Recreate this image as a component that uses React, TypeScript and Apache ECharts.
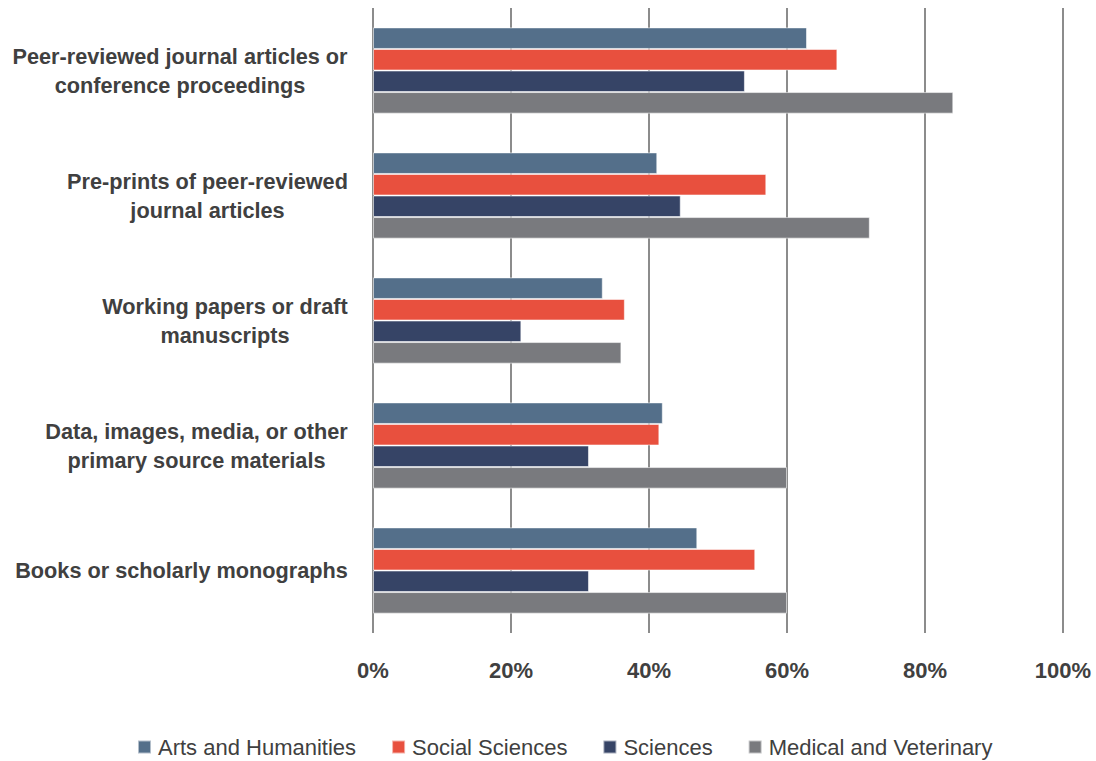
import React, { useEffect, useRef } from "react";
import * as echarts from "echarts";

const categories = [
  "Peer-reviewed journal articles or\nconference proceedings",
  "Pre-prints of peer-reviewed\njournal articles",
  "Working papers or draft\nmanuscripts",
  "Data, images, media, or other\nprimary source materials",
  "Books or scholarly monographs",
];

const seriesNames = ["Arts and Humanities", "Social Sciences", "Sciences", "Medical and Veterinary"];
const seriesColors = ["#546F8A", "#E8503E", "#364466", "#797A7E"];

const artsHumanities = [62.9, 41.2, 33.3, 42.0, 47.0];
const socialSciences = [67.3, 57.0, 36.5, 41.5, 55.4];
const sciences = [53.9, 44.6, 21.5, 31.3, 31.3];
const medicalVeterinary = [84.1, 72.0, 36.0, 60.0, 60.0];

const xTicks = [0, 20, 40, 60, 80, 100];

const FONT = "'Liberation Sans', Arial, sans-serif";
const CAT_FONT_SIZE = 21.7;

// Width of the widest line of each category label, so its lines can be
// centred on one another while the block stays right-aligned to the axis.
function labelWidths(): number[] {
  const canvas = document.createElement("canvas");
  const ctx = canvas.getContext("2d");
  return categories.map((c) => {
    if (!ctx) return 340;
    ctx.font = `bold ${CAT_FONT_SIZE}px ${FONT}`;
    return Math.ceil(Math.max(...c.split("\n").map((l) => ctx.measureText(l).width))) + 2;
  });
}

export default function App() {
  const ref = useRef<HTMLDivElement>(null);

  useEffect(() => {
    if (!ref.current) return;
    const chart = echarts.init(ref.current, undefined, { renderer: "svg" });
    const values = [artsHumanities, socialSciences, sciences, medicalVeterinary];
    const widths = labelWidths();
    const rich: Record<string, object> = {};
    widths.forEach((w, i) => {
      rich[`c${i}`] = {
        width: w,
        align: "center",
        fontFamily: FONT,
        fontWeight: "bold",
        fontSize: CAT_FONT_SIZE,
        lineHeight: 29,
        color: "#404040",
      };
    });

    chart.setOption({
      animation: false,
      backgroundColor: "#ffffff",
      grid: { left: 373, right: 33, top: 8, bottom: 128, containLabel: false },
      legend: {
        top: 731,
        left: 132,
        itemWidth: 13,
        itemHeight: 13,
        itemGap: 35,
        icon: "rect",
        textStyle: { fontFamily: FONT, fontSize: 22, color: "#404040", padding: [0, 0, 0, 2] },
        data: seriesNames,
      },
      xAxis: {
        type: "value",
        min: xTicks[0],
        max: xTicks[xTicks.length - 1],
        interval: 20,
        axisLine: { show: false },
        axisTick: { show: false },
        splitLine: { show: true, lineStyle: { color: "#8C8C8C", width: 2 } },
        axisLabel: {
          formatter: (v: number) => `${v}%`,
          fontFamily: FONT,
          fontWeight: "bold",
          fontSize: 22,
          color: "#404040",
          margin: 26,
        },
      },
      yAxis: {
        type: "category",
        inverse: true,
        data: categories,
        axisLine: { show: false },
        axisTick: { show: false },
        axisLabel: {
          align: "right",
          margin: 24,
          formatter: (value: string, index: number) =>
            value
              .split("\n")
              .map((line) => `{c${index}|${line}}`)
              .join("\n"),
          rich,
        },
      },
      series: seriesNames.map((name, i) => ({
        name,
        type: "bar",
        data: values[i],
        barGap: "0%",
        barCategoryGap: "31%",
        itemStyle: {
          color: seriesColors[i],
          borderColor: "rgba(255,255,255,0.55)",
          borderWidth: 1,
        },
      })),
    });
    return () => chart.dispose();
  }, []);

  return (
    <div
      ref={ref}
      style={{ position: "absolute", left: 0, top: 0, width: 1096, height: 761 }}
    />
  );
}
